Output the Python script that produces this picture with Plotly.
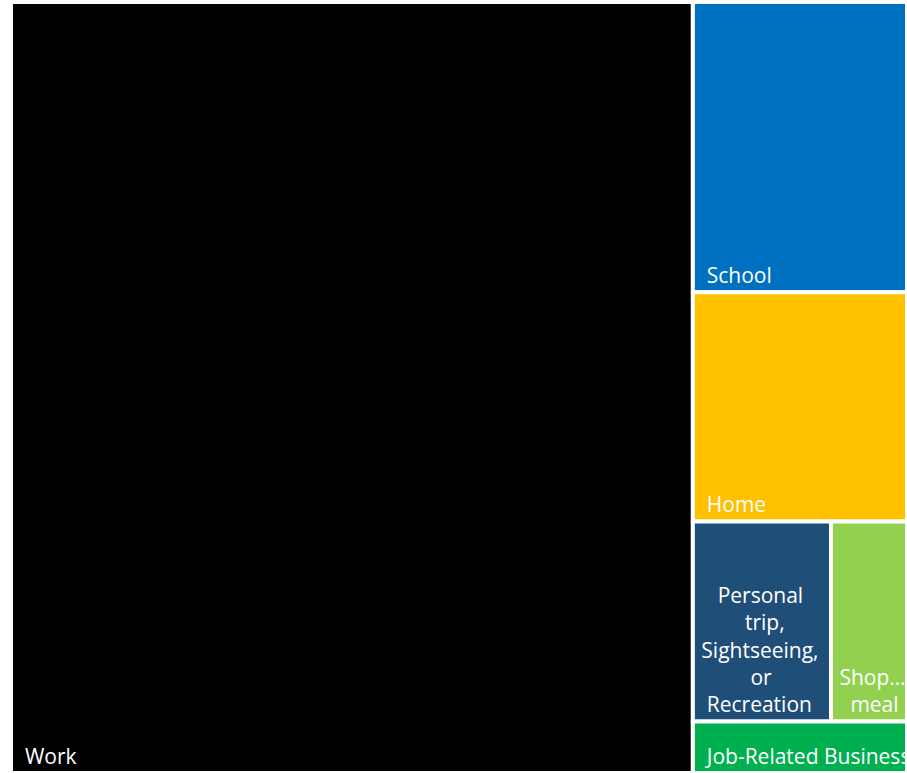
import plotly.graph_objects as go

# Trip purposes and their share of trips (%)
purposes = ["Work", "School", "Home",
            "Personal trip, Sightseeing, or Recreation",
            "Shopping or meal", "Job-Related Business"]
shares = [76.1, 9.0, 7.1, 4.0, 2.2, 1.6]

# Non-breaking spaces give the tile labels an inner margin and centre the wrapped lines
SP = "&nbsp;"
tile_labels = [
    SP * 2 + "Work",
    SP * 2 + "School",
    SP * 2 + "Home",
    "<br>".join([SP * 4 + "Personal", SP * 9 + "trip,", SP * 1 + "Sightseeing,",
                 SP * 10 + "or", SP * 2 + "Recreation"]),
    SP * 1 + "Shop…<br>" + SP * 3 + "meal",
    SP * 2 + "Job-Related Business",
]
colors = ["#000000", "#0070C0", "#FFC000", "#1F4E79", "#92D050", "#00B050"]

fig = go.Figure(go.Treemap(
    labels=purposes,
    parents=[""] * len(purposes),
    values=shares,
    text=tile_labels,
    texttemplate="%{text}",
    textposition="bottom left",
    textfont=dict(family="Open Sans", size=21, color="white"),
    marker=dict(colors=colors, line=dict(color="white", width=4),
                pad=dict(t=0, l=0, r=0, b=0)),
    tiling=dict(packing="squarify", squarifyratio=1.5, pad=0),
    pathbar=dict(visible=False),
    sort=True,
    hovertemplate="%{label}: %{value}%<extra></extra>",
))

fig.update_layout(
    width=907, height=773,
    margin=dict(l=11, r=0, t=2, b=0),
    paper_bgcolor="white",
    uniformtext=dict(minsize=21, mode="show"),
)

fig.write_html("out.html")
